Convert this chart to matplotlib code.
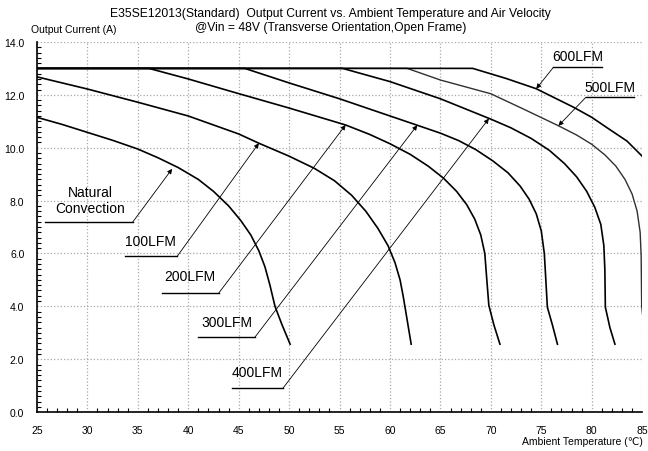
import matplotlib
matplotlib.use('Agg')
import matplotlib.pyplot as plt
from matplotlib.ticker import MultipleLocator, FormatStrFormatter

plt.rcParams['font.family'] = ['Liberation Sans', 'DejaVu Sans']

# derating curves (temperature degC, current A)
nc_t = [25, 27.5, 30, 32.5, 35, 37, 39, 41, 42.5, 44, 45.2, 46.2, 47.0, 47.6, 48.1, 48.6, 49.3, 50.1]
nc_a = [11.15, 10.88, 10.58, 10.28, 9.95, 9.62, 9.25, 8.8, 8.35, 7.8, 7.25, 6.7, 6.1, 5.5, 4.8, 4.0, 3.3, 2.57]

lfm100_t = [25, 30, 35, 40, 45, 47, 50, 52.5, 54.5, 56.2, 57.6, 58.8, 59.8, 60.5, 61.0, 61.3, 61.5, 62.1]
lfm100_a = [12.68, 12.22, 11.72, 11.2, 10.52, 10.17, 9.68, 9.22, 8.75, 8.2, 7.6, 6.95, 6.3, 5.65, 5.0, 4.4, 3.95, 2.57]

lfm200_t = [25, 36.1, 40, 44.5, 50, 55.6, 58, 60, 62, 63.8, 65.3, 66.6, 67.6, 68.4, 69.0, 69.4, 69.6, 69.8, 70.3, 70.9]
lfm200_a = [13, 13, 12.6, 12.1, 11.5, 10.86, 10.5, 10.15, 9.75, 9.3, 8.85, 8.35, 7.85, 7.3, 6.7, 6.0, 5.0, 4.04, 3.3, 2.57]

lfm300_t = [25, 45.6, 50, 55, 60, 62.7, 65, 66.8, 68.5, 70.2, 71.7, 72.9, 73.8, 74.5, 75.0, 75.3, 75.45, 75.6, 76.1, 76.6]
lfm300_a = [13, 13, 12.45, 11.85, 11.2, 10.85, 10.55, 10.27, 9.93, 9.5, 9.05, 8.55, 8.05, 7.5, 6.85, 6.0, 5.0, 3.97, 3.3, 2.57]

lfm400_t = [25, 55.3, 60, 65, 70, 72, 74, 75.8, 77.3, 78.5, 79.5, 80.3, 80.9, 81.2, 81.3, 81.35, 81.8, 82.3]
lfm400_a = [13, 13, 12.5, 11.85, 11.08, 10.75, 10.35, 9.9, 9.4, 8.9, 8.35, 7.75, 7.1, 6.3, 5.4, 3.97, 3.2, 2.57]

lfm500_t = [25, 61.7, 65, 70, 73.3, 76.7, 78.5, 80, 81.3, 82.4, 83.3, 84.0, 84.5, 84.8, 84.9, 84.95, 85.2]
lfm500_a = [13, 13, 12.56, 12.04, 11.45, 10.83, 10.48, 10.13, 9.73, 9.3, 8.8, 8.25, 7.6, 6.8, 5.9, 4.02, 3.1]

lfm600_t = [25, 68.2, 71.5, 74.5, 78.2, 80, 81.5, 83.5, 85]
lfm600_a = [13, 13, 12.62, 12.23, 11.53, 11.15, 10.76, 10.25, 9.68]

curves = [(nc_t, nc_a), (lfm100_t, lfm100_a), (lfm200_t, lfm200_a), (lfm300_t, lfm300_a),
          (lfm400_t, lfm400_a), (lfm500_t, lfm500_a), (lfm600_t, lfm600_a)]

# labels: text, text pos, underline x range, underline y, arrow tip
labels = ['Natural\nConvection', '100LFM', '200LFM', '300LFM', '400LFM', '500LFM', '600LFM']
label_pos = [(30.3, 8.03), (36.3, 6.48), (40.2, 5.14), (43.8, 3.39), (46.8, 1.5), (81.8, 12.28), (78.6, 13.48)]
line_x = [(25.8, 34.5), (33.7, 38.9), (37.4, 43.0), (41.0, 46.6), (44.3, 49.4), (79.4, 84.2), (76.2, 81.0)]
line_y = [7.19, 5.89, 4.49, 2.83, 0.91, 11.9, 13.04]
arrow_tip = [(38.4, 9.2), (47.0, 10.17), (55.6, 10.86), (62.7, 10.85), (69.8, 11.1), (76.7, 10.83), (74.5, 12.23)]

fig = plt.figure(figsize=(6.48, 4.52), dpi=100)
ax = fig.add_axes([0.057, 0.086, 0.934, 0.819])

for i, (t, a) in enumerate(curves):
    if i == 5:
        ax.plot(t, a, color='#303030', lw=1.0)
    else:
        ax.plot(t, a, color='black', lw=1.2)

for i, lab in enumerate(labels):
    ax.text(label_pos[i][0], label_pos[i][1], lab, ha='center', va='center', fontsize=10, linespacing=1.15)
    x0, x1 = line_x[i]
    ax.plot([x0, x1], [line_y[i], line_y[i]], color='black', lw=1.0)
    start = (x0, line_y[i]) if i >= 5 else (x1, line_y[i])
    ax.annotate('', xy=arrow_tip[i], xytext=start,
                arrowprops=dict(arrowstyle='-|>', lw=0.6, color='black', mutation_scale=7,
                                shrinkA=0, shrinkB=0))

ax.set_xlim(25, 85)
ax.set_ylim(0, 14)
ax.xaxis.set_major_locator(MultipleLocator(5))
ax.xaxis.set_minor_locator(MultipleLocator(1))
ax.yaxis.set_major_locator(MultipleLocator(2))
ax.yaxis.set_minor_locator(MultipleLocator(0.2))
ax.yaxis.set_major_formatter(FormatStrFormatter('%.1f'))
ax.tick_params(which='both', direction='in', labelsize=7.5)
ax.tick_params(axis='x', which='major', length=0, pad=9)
ax.tick_params(axis='y', which='major', length=0, pad=9)
ax.tick_params(which='minor', length=3, width=0.8)
ax.grid(True, which='major', color='#a8a8a8', linestyle=':', lw=0.9)
ax.spines['top'].set_visible(False)
ax.spines['right'].set_visible(False)
ax.spines['left'].set_linewidth(1.2)
ax.spines['bottom'].set_linewidth(1.2)

fig.text(0.51, 0.969, 'E35SE12013(Standard)  Output Current vs. Ambient Temperature and Air Velocity',
         ha='center', va='center', fontsize=8.7)
fig.text(0.51, 0.938, '@Vin = 48V (Transverse Orientation,Open Frame)', ha='center', va='center', fontsize=8.7)
fig.text(0.048, 0.934, 'Output Current (A)', ha='left', va='center', fontsize=7.5)
fig.text(0.992, 0.012, 'Ambient Temperature (\u2103)', ha='right', va='bottom', fontsize=7.5)

plt.savefig('out.png', dpi=100)
